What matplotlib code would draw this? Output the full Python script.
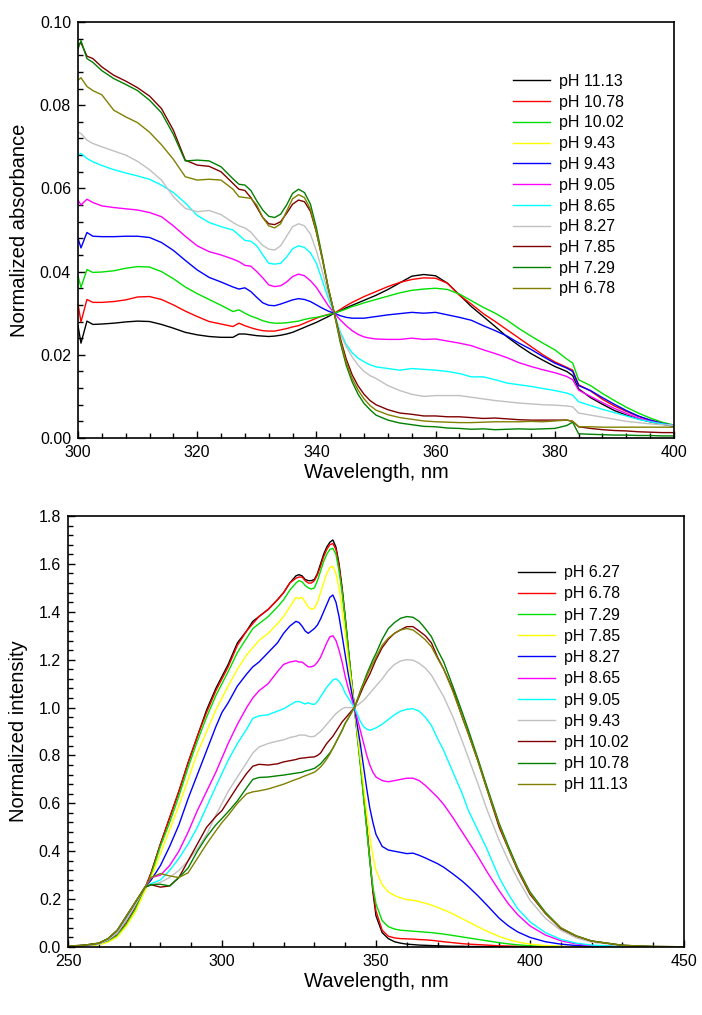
import matplotlib
matplotlib.use("Agg")
import matplotlib.pyplot as plt
from matplotlib.ticker import MultipleLocator, FormatStrFormatter

plt.rcParams['font.family'] = ['Liberation Sans', 'DejaVu Sans']

# ---------------- top panel: absorbance ----------------
wl_abs = [300, 300.5, 301.5, 302.5, 304, 306, 308, 310, 312, 314, 316, 318, 320, 322, 324, 326,
          327, 328, 329, 330, 331, 332, 333, 334, 335, 336, 337, 338, 339, 340, 341, 342, 343,
          344, 345, 346, 347, 348, 349, 350, 352, 354, 356, 358, 360, 362, 364, 366, 368, 370,
          372, 374, 376, 378, 380, 382, 383, 384, 386, 388, 390, 392, 394, 396, 398, 400]

abs_labels = ["pH 11.13", "pH 10.78", "pH 10.02", "pH 9.43", "pH 9.43", "pH 9.05",
              "pH 8.65", "pH 8.27", "pH 7.85", "pH 7.29", "pH 6.78"]
abs_colors = ["#000000", "#ff0000", "#00e000", "#ffff00", "#0000ff", "#ff00ff",
              "#00ffff", "#c0c0c0", "#800000", "#008000", "#808000"]

abs_1113 = [0.0270, 0.0228, 0.0281, 0.0273, 0.0274, 0.0276, 0.0279, 0.0281, 0.0280, 0.0273, 0.0264,
            0.0254, 0.0248, 0.0244, 0.0242, 0.0242, 0.0250, 0.0250, 0.0248, 0.0246, 0.0245, 0.0244,
            0.0245, 0.0247, 0.0250, 0.0254, 0.0260, 0.0266, 0.0272, 0.0278, 0.0285, 0.0292, 0.0300,
            0.0306, 0.0313, 0.0319, 0.0325, 0.0331, 0.0337, 0.0343, 0.0357, 0.0373, 0.0389, 0.0393,
            0.0390, 0.0372, 0.0344, 0.0316, 0.0292, 0.0268, 0.0243, 0.0222, 0.0203, 0.0187, 0.0172,
            0.0160, 0.0150, 0.0118, 0.0097, 0.0081, 0.0066, 0.0055, 0.0046, 0.0039, 0.0033, 0.0028]
abs_1078 = [0.0322, 0.0279, 0.0333, 0.0326, 0.0326, 0.0328, 0.0332, 0.0339, 0.0340, 0.0333, 0.0320,
            0.0305, 0.0292, 0.0280, 0.0274, 0.0268, 0.0276, 0.0270, 0.0265, 0.0261, 0.0258, 0.0257,
            0.0257, 0.0260, 0.0263, 0.0267, 0.0270, 0.0276, 0.0282, 0.0288, 0.0293, 0.0297, 0.0300,
            0.0309, 0.0318, 0.0326, 0.0333, 0.0340, 0.0346, 0.0352, 0.0364, 0.0374, 0.0381, 0.0385,
            0.0384, 0.0372, 0.0343, 0.0322, 0.0299, 0.0280, 0.0260, 0.0240, 0.0220, 0.0200, 0.0183,
            0.0170, 0.0163, 0.0128, 0.0113, 0.0093, 0.0077, 0.0064, 0.0052, 0.0043, 0.0036, 0.0030]
abs_1002 = [0.0390, 0.0362, 0.0405, 0.0398, 0.0399, 0.0402, 0.0408, 0.0412, 0.0411, 0.0400, 0.0383,
            0.0363, 0.0347, 0.0333, 0.0319, 0.0304, 0.0308, 0.0300, 0.0293, 0.0288, 0.0282, 0.0278,
            0.0276, 0.0276, 0.0277, 0.0279, 0.0281, 0.0285, 0.0288, 0.0290, 0.0293, 0.0296, 0.0300,
            0.0305, 0.0310, 0.0316, 0.0320, 0.0325, 0.0329, 0.0333, 0.0341, 0.0349, 0.0355, 0.0358,
            0.0360, 0.0357, 0.0346, 0.0330, 0.0314, 0.0300, 0.0283, 0.0263, 0.0245, 0.0228, 0.0212,
            0.0190, 0.0180, 0.0140, 0.0126, 0.0107, 0.0090, 0.0074, 0.0060, 0.0048, 0.0038, 0.0031]
abs_943b = [0.0480, 0.0457, 0.0494, 0.0485, 0.0484, 0.0484, 0.0485, 0.0485, 0.0482, 0.0470, 0.0451,
            0.0427, 0.0404, 0.0386, 0.0375, 0.0363, 0.0358, 0.0361, 0.0352, 0.0338, 0.0325, 0.0319,
            0.0318, 0.0322, 0.0327, 0.0332, 0.0335, 0.0333, 0.0328, 0.0320, 0.0312, 0.0305, 0.0300,
            0.0294, 0.0290, 0.0288, 0.0288, 0.0288, 0.0290, 0.0292, 0.0296, 0.0299, 0.0302, 0.0300,
            0.0302, 0.0296, 0.0290, 0.0283, 0.0270, 0.0258, 0.0245, 0.0228, 0.0213, 0.0196, 0.0180,
            0.0168, 0.0160, 0.0126, 0.0114, 0.0097, 0.0081, 0.0066, 0.0053, 0.0043, 0.0035, 0.0030]
abs_905 = [0.0572, 0.0560, 0.0574, 0.0566, 0.0558, 0.0554, 0.0551, 0.0548, 0.0542, 0.0532, 0.0510,
           0.0485, 0.0462, 0.0448, 0.0440, 0.0430, 0.0424, 0.0415, 0.0413, 0.0400, 0.0385, 0.0368,
           0.0364, 0.0366, 0.0375, 0.0388, 0.0394, 0.0390, 0.0378, 0.0362, 0.0340, 0.0318, 0.0300,
           0.0284, 0.0270, 0.0258, 0.0249, 0.0243, 0.0240, 0.0238, 0.0237, 0.0237, 0.0240, 0.0237,
           0.0238, 0.0233, 0.0228, 0.0222, 0.0212, 0.0203, 0.0193, 0.0181, 0.0172, 0.0164, 0.0157,
           0.0148, 0.0140, 0.0115, 0.0100, 0.0085, 0.0071, 0.0059, 0.0048, 0.0040, 0.0034, 0.0030]
abs_865 = [0.0680, 0.0684, 0.0672, 0.0664, 0.0655, 0.0645, 0.0637, 0.0630, 0.0622, 0.0608, 0.0590,
           0.0565, 0.0535, 0.0518, 0.0508, 0.0500, 0.0488, 0.0475, 0.0473, 0.0462, 0.0440, 0.0420,
           0.0418, 0.0420, 0.0435, 0.0455, 0.0462, 0.0458, 0.0445, 0.0420, 0.0378, 0.0335, 0.0300,
           0.0255, 0.0225, 0.0205, 0.0192, 0.0183, 0.0176, 0.0171, 0.0167, 0.0163, 0.0167, 0.0165,
           0.0163, 0.0160, 0.0155, 0.0147, 0.0147, 0.0140, 0.0132, 0.0128, 0.0124, 0.0119, 0.0114,
           0.0108, 0.0103, 0.0087, 0.0078, 0.0069, 0.0061, 0.0053, 0.0045, 0.0039, 0.0034, 0.0030]
abs_827 = [0.0735, 0.0732, 0.0716, 0.0708, 0.0700, 0.0690, 0.0680, 0.0665, 0.0645, 0.0620, 0.0580,
           0.0552, 0.0544, 0.0547, 0.0537, 0.0518, 0.0510, 0.0505, 0.0495, 0.0478, 0.0463, 0.0454,
           0.0452, 0.0462, 0.0485, 0.0508, 0.0515, 0.0510, 0.0490, 0.0450, 0.0400, 0.0345, 0.0300,
           0.0250, 0.0220, 0.0195, 0.0175, 0.0160, 0.0150, 0.0143, 0.0126, 0.0114, 0.0105, 0.0100,
           0.0102, 0.0102, 0.0102, 0.0098, 0.0094, 0.0090, 0.0087, 0.0084, 0.0082, 0.0080, 0.0079,
           0.0077, 0.0075, 0.0060, 0.0055, 0.0050, 0.0045, 0.0040, 0.0037, 0.0034, 0.0032, 0.0030]
abs_785 = [0.0945, 0.0950, 0.0918, 0.0912, 0.0892, 0.0872, 0.0858, 0.0842, 0.0822, 0.0792, 0.0740,
           0.0668, 0.0656, 0.0653, 0.0640, 0.0612, 0.0598, 0.0595, 0.0578, 0.0555, 0.0530, 0.0515,
           0.0513, 0.0520, 0.0540, 0.0562, 0.0572, 0.0568, 0.0545, 0.0495, 0.0430, 0.0360, 0.0300,
           0.0240, 0.0190, 0.0152, 0.0125, 0.0105, 0.0090, 0.0080, 0.0068, 0.0060, 0.0057, 0.0053,
           0.0053, 0.0051, 0.0051, 0.0049, 0.0047, 0.0048, 0.0046, 0.0044, 0.0043, 0.0043, 0.0043,
           0.0043, 0.0040, 0.0027, 0.0023, 0.0020, 0.0018, 0.0017, 0.0015, 0.0014, 0.0013, 0.0013]
abs_729 = [0.0935, 0.0955, 0.0912, 0.0903, 0.0883, 0.0864, 0.0850, 0.0835, 0.0812, 0.0782, 0.0730,
           0.0666, 0.0668, 0.0666, 0.0652, 0.0623, 0.0610, 0.0608, 0.0595, 0.0570, 0.0548, 0.0533,
           0.0530, 0.0538, 0.0560, 0.0588, 0.0598, 0.0590, 0.0562, 0.0505, 0.0435, 0.0360, 0.0300,
           0.0230, 0.0175, 0.0135, 0.0105, 0.0083, 0.0068, 0.0055, 0.0043, 0.0036, 0.0032, 0.0028,
           0.0027, 0.0024, 0.0023, 0.0021, 0.0022, 0.0020, 0.0021, 0.0022, 0.0021, 0.0022, 0.0023,
           0.0030, 0.0038, 0.0010, 0.0009, 0.0008, 0.0007, 0.0007, 0.0006, 0.0006, 0.0005, 0.0005]
abs_678 = [0.0860, 0.0866, 0.0845, 0.0835, 0.0825, 0.0788, 0.0772, 0.0758, 0.0735, 0.0705, 0.0670,
           0.0628, 0.0620, 0.0622, 0.0620, 0.0598, 0.0580, 0.0578, 0.0576, 0.0560, 0.0530, 0.0510,
           0.0505, 0.0515, 0.0545, 0.0575, 0.0585, 0.0578, 0.0550, 0.0495, 0.0430, 0.0360, 0.0300,
           0.0235, 0.0182, 0.0143, 0.0115, 0.0094, 0.0078, 0.0067, 0.0056, 0.0049, 0.0045, 0.0041,
           0.0039, 0.0038, 0.0037, 0.0037, 0.0038, 0.0039, 0.0039, 0.0039, 0.0040, 0.0039, 0.0041,
           0.0043, 0.0040, 0.0027, 0.0027, 0.0026, 0.0026, 0.0026, 0.0026, 0.0026, 0.0026, 0.0026]

# the yellow "pH 9.43" entry has no visible trace in the original
abs_series = [abs_1113, abs_1078, abs_1002, None, abs_943b, abs_905,
              abs_865, abs_827, abs_785, abs_729, abs_678]

# ---------------- bottom panel: fluorescence ----------------
wl_fl = [250, 255, 260, 263, 266, 269, 272, 275, 277, 280, 283, 286, 289, 292, 295, 298,
         300, 302, 305, 308, 310, 312, 315, 318, 320, 322, 324,
         325, 326, 327, 328, 329, 330, 331, 332, 333, 334, 335, 336, 337, 338, 339, 340,
         341, 342, 343, 344, 345, 346, 347, 348, 349, 350,
         352, 354, 356, 358, 360, 362, 364, 366, 368, 370, 372,
         375, 378, 380, 383, 386, 390, 393, 396, 400,
         405, 410, 415, 420, 430, 440, 450]

fl_labels = ["pH 6.27", "pH 6.78", "pH 7.29", "pH 7.85", "pH 8.27", "pH 8.65",
             "pH 9.05", "pH 9.43", "pH 10.02", "pH 10.78", "pH 11.13"]
fl_colors = ["#000000", "#ff0000", "#00e000", "#ffff00", "#0000ff", "#ff00ff",
             "#00ffff", "#c0c0c0", "#800000", "#008000", "#808000"]

fl_627 = [0.004, 0.006, 0.012, 0.024, 0.05, 0.10, 0.165, 0.245,
          0.31, 0.43, 0.54, 0.65, 0.77, 0.88, 0.99, 1.08,
          1.13, 1.18, 1.27, 1.32, 1.36, 1.38, 1.41, 1.45, 1.48, 1.52, 1.55,
          1.555, 1.55, 1.535, 1.53, 1.53, 1.535, 1.56, 1.60, 1.64, 1.67, 1.69, 1.70, 1.67, 1.60, 1.50, 1.38,
          1.25, 1.12, 1.00, 0.88, 0.76, 0.63, 0.50, 0.36, 0.23, 0.13,
          0.06, 0.035, 0.022, 0.016, 0.012, 0.010, 0.008, 0.007, 0.006, 0.005, 0.004,
          0.003, 0.003, 0.002, 0.002, 0.002, 0.001, 0.001, 0.001, 0.001,
          0.0, 0.0, 0.0, 0.0, 0.0, 0.0, 0.0]
fl_678 = [0.004, 0.006, 0.012, 0.024, 0.05, 0.10, 0.165, 0.245,
          0.31, 0.43, 0.54, 0.65, 0.77, 0.88, 0.98, 1.07,
          1.12, 1.17, 1.26, 1.32, 1.35, 1.38, 1.41, 1.45, 1.48, 1.52, 1.54,
          1.545, 1.545, 1.53, 1.52, 1.52, 1.53, 1.555, 1.59, 1.63, 1.66, 1.68, 1.685, 1.66, 1.59, 1.49, 1.37,
          1.24, 1.12, 1.00, 0.88, 0.76, 0.63, 0.50, 0.37, 0.24, 0.15,
          0.07, 0.045, 0.038, 0.035, 0.034, 0.033, 0.031, 0.030, 0.028, 0.025, 0.022,
          0.018, 0.014, 0.012, 0.010, 0.008, 0.005, 0.004, 0.003, 0.002,
          0.001, 0.001, 0.0, 0.0, 0.0, 0.0, 0.0]
fl_729 = [0.004, 0.006, 0.011, 0.022, 0.047, 0.095, 0.16, 0.24,
          0.30, 0.42, 0.52, 0.63, 0.75, 0.86, 0.96, 1.05,
          1.10, 1.15, 1.23, 1.29, 1.33, 1.35, 1.38, 1.42, 1.45, 1.49, 1.52,
          1.53, 1.525, 1.51, 1.50, 1.495, 1.50, 1.53, 1.57, 1.61, 1.64, 1.66, 1.665, 1.64, 1.57, 1.48, 1.37,
          1.24, 1.12, 1.00, 0.87, 0.75, 0.62, 0.49, 0.36, 0.25, 0.18,
          0.11, 0.085, 0.075, 0.070, 0.068, 0.066, 0.064, 0.062, 0.060, 0.057, 0.054,
          0.048, 0.042, 0.038, 0.032, 0.026, 0.018, 0.013, 0.009, 0.005,
          0.003, 0.002, 0.001, 0.0, 0.0, 0.0, 0.0]
fl_785 = [0.004, 0.005, 0.010, 0.020, 0.042, 0.088, 0.15, 0.235,
          0.29, 0.39, 0.49, 0.59, 0.70, 0.81, 0.90, 0.99,
          1.04, 1.09, 1.16, 1.22, 1.25, 1.28, 1.31, 1.35, 1.38, 1.42, 1.46,
          1.455, 1.46, 1.44, 1.42, 1.41, 1.415, 1.44, 1.48, 1.52, 1.56, 1.585, 1.59, 1.56, 1.50, 1.41, 1.31,
          1.20, 1.10, 1.00, 0.89, 0.78, 0.67, 0.56, 0.46, 0.38, 0.32,
          0.26, 0.23, 0.215, 0.205, 0.198, 0.195, 0.190, 0.183, 0.175, 0.165, 0.155,
          0.138, 0.118, 0.105, 0.085, 0.066, 0.044, 0.031, 0.021, 0.012,
          0.006, 0.003, 0.002, 0.001, 0.0, 0.0, 0.0]
fl_827 = [0.004, 0.006, 0.014, 0.030, 0.06, 0.115, 0.18, 0.25,
          0.28, 0.34, 0.42, 0.51, 0.62, 0.72, 0.82, 0.92,
          0.98, 1.02, 1.09, 1.14, 1.17, 1.19, 1.23, 1.27, 1.31, 1.34, 1.36,
          1.355, 1.34, 1.32, 1.31, 1.32, 1.33, 1.345, 1.37, 1.40, 1.43, 1.46, 1.47, 1.44, 1.38, 1.30, 1.22,
          1.14, 1.07, 1.00, 0.92, 0.84, 0.75, 0.66, 0.58, 0.52, 0.47,
          0.42, 0.405, 0.400, 0.395, 0.390, 0.392, 0.383, 0.372, 0.360, 0.348, 0.333,
          0.305, 0.275, 0.252, 0.215, 0.175, 0.120, 0.088, 0.063, 0.040,
          0.022, 0.012, 0.006, 0.003, 0.001, 0.0, 0.0]
fl_865 = [0.004, 0.006, 0.014, 0.030, 0.06, 0.115, 0.18, 0.25,
          0.29, 0.30, 0.34, 0.40, 0.48, 0.57, 0.65, 0.73,
          0.79, 0.85, 0.93, 1.00, 1.04, 1.07, 1.10, 1.15, 1.18, 1.19, 1.195,
          1.19, 1.19, 1.18, 1.17, 1.17, 1.175, 1.19, 1.21, 1.24, 1.27, 1.295, 1.30, 1.28, 1.24, 1.19, 1.13,
          1.08, 1.04, 1.00, 0.95, 0.90, 0.85, 0.80, 0.76, 0.73, 0.71,
          0.695, 0.69, 0.695, 0.70, 0.705, 0.705, 0.695, 0.675, 0.65, 0.625, 0.595,
          0.54, 0.48, 0.44, 0.38, 0.315, 0.235, 0.18, 0.135, 0.088,
          0.05, 0.026, 0.013, 0.006, 0.002, 0.001, 0.0]
fl_905 = [0.004, 0.006, 0.014, 0.030, 0.06, 0.115, 0.18, 0.25,
          0.265, 0.28, 0.32, 0.37, 0.43, 0.50, 0.585, 0.67,
          0.725, 0.78, 0.85, 0.91, 0.955, 0.965, 0.97, 0.985, 0.995, 1.01, 1.025,
          1.025, 1.02, 1.015, 1.02, 1.015, 1.013, 1.025, 1.045, 1.065, 1.085, 1.10, 1.115, 1.12, 1.11, 1.09, 1.06,
          1.04, 1.02, 1.00, 0.97, 0.94, 0.92, 0.91, 0.905, 0.91, 0.915,
          0.93, 0.95, 0.97, 0.985, 0.993, 0.995, 0.985, 0.96, 0.925, 0.87, 0.82,
          0.73, 0.64, 0.57, 0.49, 0.41, 0.29, 0.22, 0.16, 0.105,
          0.06, 0.032, 0.016, 0.008, 0.002, 0.001, 0.0]
fl_943 = [0.004, 0.006, 0.014, 0.030, 0.06, 0.115, 0.18, 0.25,
          0.26, 0.27, 0.29, 0.32, 0.36, 0.41, 0.47, 0.55,
          0.60, 0.65, 0.71, 0.77, 0.81, 0.835, 0.85, 0.86, 0.865, 0.875, 0.88,
          0.885, 0.885, 0.885, 0.88, 0.878, 0.88, 0.89, 0.90, 0.915, 0.93, 0.945, 0.96, 0.975, 0.985, 0.995, 1.0,
          1.0, 1.0, 1.0, 1.01, 1.02, 1.03, 1.045, 1.06, 1.075, 1.09,
          1.12, 1.155, 1.18, 1.195, 1.20, 1.198, 1.185, 1.165, 1.135, 1.09, 1.045,
          0.96, 0.86, 0.79, 0.685, 0.575, 0.445, 0.36, 0.285, 0.195,
          0.12, 0.07, 0.038, 0.02, 0.006, 0.002, 0.001]
fl_1002 = [0.004, 0.007, 0.016, 0.035, 0.07, 0.13, 0.19, 0.25,
           0.26, 0.25, 0.255, 0.29, 0.36, 0.43, 0.50, 0.545,
           0.57, 0.61, 0.67, 0.725, 0.755, 0.763, 0.76, 0.765, 0.773, 0.778, 0.783,
           0.787, 0.789, 0.79, 0.792, 0.793, 0.794, 0.80, 0.81, 0.83, 0.85, 0.865, 0.88, 0.90, 0.92, 0.94, 0.955,
           0.97, 0.985, 1.0, 1.03, 1.06, 1.09, 1.115, 1.14, 1.17, 1.20,
           1.25, 1.285, 1.31, 1.325, 1.338, 1.338, 1.32, 1.30, 1.27, 1.21, 1.16,
           1.073, 0.96, 0.89, 0.78, 0.66, 0.50, 0.41, 0.32, 0.22,
           0.14, 0.077, 0.045, 0.025, 0.007, 0.002, 0.001]
fl_1078 = [0.004, 0.007, 0.016, 0.035, 0.07, 0.13, 0.19, 0.25,
           0.26, 0.262, 0.255, 0.29, 0.33, 0.40, 0.46, 0.51,
           0.537, 0.565, 0.61, 0.665, 0.70, 0.708, 0.71, 0.715, 0.718, 0.722, 0.726,
           0.728, 0.73, 0.735, 0.738, 0.742, 0.746, 0.755, 0.765, 0.78, 0.795, 0.81, 0.83, 0.855, 0.88, 0.905, 0.934,
           0.955, 0.978, 1.0, 1.035, 1.073, 1.105, 1.14, 1.17, 1.20, 1.226,
           1.285, 1.33, 1.355, 1.373, 1.38, 1.377, 1.36, 1.33, 1.296, 1.24, 1.19,
           1.087, 0.98, 0.906, 0.79, 0.67, 0.516, 0.42, 0.33, 0.23,
           0.145, 0.08, 0.047, 0.025, 0.007, 0.002, 0.001]
fl_1113 = [0.004, 0.007, 0.016, 0.035, 0.07, 0.13, 0.19, 0.25,
           0.29, 0.307, 0.297, 0.29, 0.31, 0.37, 0.43, 0.485,
           0.52, 0.55, 0.60, 0.64, 0.648, 0.652, 0.66, 0.672, 0.68, 0.69, 0.70,
           0.704, 0.71, 0.715, 0.72, 0.725, 0.73, 0.74, 0.752, 0.767, 0.785, 0.805, 0.83, 0.855, 0.88, 0.905, 0.934,
           0.955, 0.978, 1.0, 1.035, 1.07, 1.10, 1.13, 1.16, 1.185, 1.21,
           1.26, 1.29, 1.31, 1.324, 1.33, 1.324, 1.305, 1.283, 1.254, 1.205, 1.16,
           1.066, 0.96, 0.89, 0.78, 0.66, 0.51, 0.41, 0.325, 0.225,
           0.14, 0.08, 0.046, 0.025, 0.007, 0.002, 0.001]

fl_series = [fl_627, fl_678, fl_729, fl_785, fl_827, fl_865,
             fl_905, fl_943, fl_1002, fl_1078, fl_1113]


def style_axes(ax):
    ax.tick_params(which='both', direction='in', top=False, right=False,
                   labelsize=11.5, width=1.0, pad=5)
    ax.tick_params(which='major', length=5)
    ax.tick_params(which='minor', length=3.5)
    for s in ax.spines.values():
        s.set_linewidth(1.2)


fig = plt.figure(figsize=(7.02, 10.15), dpi=100)

# top panel
ax1 = fig.add_axes([78/702, 1-438/1015, (674-78)/702, (438-22)/1015])
for vals, lab, col in zip(abs_series, abs_labels, abs_colors):
    if vals is None:
        ax1.plot([], [], color=col, lw=1.0, label=lab)
    else:
        ax1.plot(wl_abs, vals, color=col, lw=1.0, label=lab)
ax1.set_xlim(300, 400)
ax1.set_ylim(0, 0.10)
ax1.xaxis.set_major_locator(MultipleLocator(20))
ax1.xaxis.set_minor_locator(MultipleLocator(4))
ax1.yaxis.set_major_locator(MultipleLocator(0.02))
ax1.yaxis.set_minor_locator(MultipleLocator(0.004))
ax1.yaxis.set_major_formatter(FormatStrFormatter('%.2f'))
ax1.set_xlabel("Wavelength, nm", fontsize=14.5, labelpad=2)
ax1.set_ylabel("Normalized absorbance", fontsize=14.5, labelpad=8)
style_axes(ax1)
ax1.legend(loc='upper left', bbox_to_anchor=(0.73, 0.875), frameon=False, fontsize=11.5,
           handlelength=2.3, handletextpad=0.6, labelspacing=0.36, borderpad=0, borderaxespad=0)

# bottom panel
ax2 = fig.add_axes([68/702, 1-947/1015, (684-68)/702, (947-516)/1015])
for vals, lab, col in zip(fl_series, fl_labels, fl_colors):
    ax2.plot(wl_fl, vals, color=col, lw=1.0, label=lab)
ax2.set_xlim(250, 450)
ax2.set_ylim(0, 1.8)
ax2.xaxis.set_major_locator(MultipleLocator(50))
ax2.xaxis.set_minor_locator(MultipleLocator(10))
ax2.yaxis.set_major_locator(MultipleLocator(0.2))
ax2.yaxis.set_minor_locator(MultipleLocator(0.04))
ax2.yaxis.set_major_formatter(FormatStrFormatter('%.1f'))
ax2.set_xlabel("Wavelength, nm", fontsize=14.5, labelpad=2)
ax2.set_ylabel("Normalized intensity", fontsize=14.5, labelpad=8)
style_axes(ax2)
ax2.legend(loc='upper left', bbox_to_anchor=(0.7305, 0.886), frameon=False, fontsize=11.5,
           handlelength=2.3, handletextpad=0.6, labelspacing=0.39, borderpad=0, borderaxespad=0)

fig.savefig("out.png", dpi=100)
